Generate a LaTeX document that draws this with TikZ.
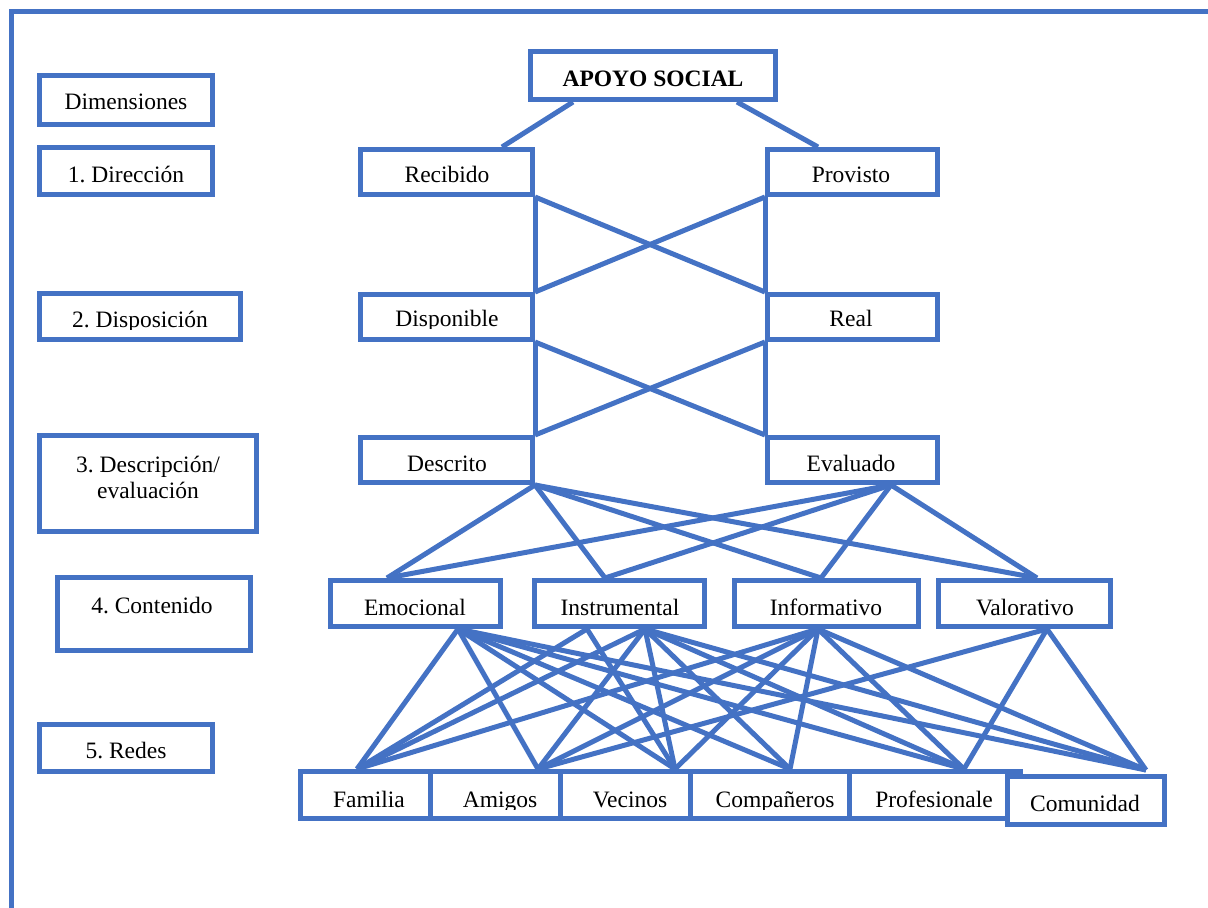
\documentclass[tikz,border=0pt]{standalone}
\usepackage{fontspec}
\setmainfont{Liberation Serif}
\usetikzlibrary{calc}
\definecolor{ofblue}{HTML}{4472C4}
\frenchspacing

% box given by its outer corners (x1,y1) (x2,y2), in pixel-like units
\newcommand\mkbox[5]{%
  \pgfmathsetmacro\mybw{(#4-#2-5)/2}%
  \pgfmathsetmacro\mybh{(#5-#3-5)/2}%
  \node[box, minimum width=\mybw pt, minimum height=\mybh pt] (#1) at ({(#2+#4)/2},{(#3+#5)/2}) {};}

\begin{document}
\begin{tikzpicture}[x=0.5pt,y=-0.5pt,
  box/.style={draw=ofblue, line width=2.5pt, fill=white, rectangle, inner sep=0pt},
  link/.style={draw=ofblue, line width=2.5pt},
  frame/.style={draw=ofblue, line width=2.5pt, line join=miter},
  txt/.style={anchor=base, inner sep=0pt, font=\fontsize{11.75}{13}\selectfont, align=center}]
\useasboundingbox (0,0) rectangle (1208,908);

% outer frame (top and left edges only)
\draw[frame] (11,908) -- (11,12) -- (1208,12);

% ---- dimension column ----
\mkbox{dim}{37}{73}{215}{127}
\mkbox{dA}{37}{145}{215}{197}
\mkbox{dB}{37}{291}{243}{342}
\mkbox{dC}{37}{433}{259}{534}
\mkbox{dD}{55}{575}{253}{653}
\mkbox{dE}{37}{722}{215}{774}
\node[txt] (dim-t) at (126,110) {Dimensiones};
\node[txt] (dA-t) at (126,183) {1. Dirección};
\begin{scope}
  \clip (40,294) rectangle (240,330);
  \node[txt] (dB-t) at (140,328) {2. Disposición};
\end{scope}
\node[txt] (dC-t) at (148,498) {3. Descripción/\\evaluación};
\node[txt] (dD-t) at (152,613) {4. Contenido};
\node[txt] (dE-t) at (126,758) {5. Redes};

% ---- hierarchy ----
\mkbox{apoyo}{528}{49}{778}{102}
\mkbox{rec}{358}{147}{535}{197}
\mkbox{prov}{765}{147}{940}{197}
\mkbox{disp}{358}{292}{535}{342}
\mkbox{real}{765}{292}{940}{342}
\mkbox{desc}{358}{435}{535}{485}
\mkbox{eval}{765}{435}{940}{485}

\mkbox{emo}{328}{578}{503}{629}
\mkbox{inst}{532}{578}{707}{629}
\mkbox{info}{732}{578}{921}{629}
\mkbox{valo}{936}{578}{1113}{629}

\mkbox{fam}{298}{769}{433}{821}
\mkbox{ami}{428}{769}{563}{821}
\mkbox{vec}{558}{769}{693}{821}
\mkbox{comp}{688}{769}{852}{821}
\mkbox{prof}{847}{769}{1023}{821}
\mkbox{comu}{1005}{774}{1167}{827}

\node[txt, font=\fontsize{11.75}{13}\selectfont\bfseries] (apoyo-t) at (653,87) {APOYO SOCIAL};
\node[txt] (rec-t) at (447,183) {Recibido};
\node[txt] (prov-t) at (851,183) {Provisto};
\begin{scope}
  \clip (361,295) rectangle (530,329);
  \node[txt] (disp-t) at (447,327) {Disponible};
\end{scope}
\node[txt] (real-t) at (851,327) {Real};
\node[txt] (desc-t) at (447,471) {Descrito};
\node[txt] (eval-t) at (851,471) {Evaluado};

\node[txt] (emo-t) at (415,615) {Emocional};
\node[txt] (inst-t) at (620,615) {Instrumental};
\node[txt] (info-t) at (826,615) {Informativo};
\node[txt] (valo-t) at (1025,615) {Valorativo};

\begin{scope}
  \clip (300,772) rectangle (1003,809);
  \node[txt] (fam-t) at (369,807) {Familia};
  \node[txt] (ami-t) at (500,807) {Amigos};
  \node[txt] (vec-t) at (630,807) {Vecinos};
  \node[txt] (comp-t) at (775,807) {Compañeros};
  \node[txt] (prof-t) at (934,807) {Profesionale};
\end{scope}
\node[txt] (comu-t) at (1085,811) {Comunidad};

% ---- connectors: levels 0 to 3 ----
\draw[link] ($(apoyo.south)+(-80,0)$) -- ($(rec.north)+(55.5,0)$);
\draw[link] ($(apoyo.south)+(84,0)$) -- ($(prov.north)+(-34.5,0)$);

\draw[link] (rec.south east) -- (disp.north east);
\draw[link] (rec.south east) -- (real.north west);
\draw[link] (prov.south west) -- (disp.north east);
\draw[link] (prov.south west) -- (real.north west);

\draw[link] (disp.south east) -- (desc.north east);
\draw[link] (disp.south east) -- (eval.north west);
\draw[link] (real.south west) -- (desc.north east);
\draw[link] (real.south west) -- (eval.north west);

% attachment points on the content boxes
\coordinate (emo-n) at ($(emo.north)+(-28.5,0)$);
\coordinate (inst-n) at ($(inst.north)+(-14.5,0)$);
\coordinate (info-n) at ($(info.north)+(-5.5,0)$);
\coordinate (valo-n) at ($(valo.north)+(12.5,0)$);
\coordinate (eval-s) at ($(eval.south)+(38.5,0)$);

\foreach \t in {emo-n,inst-n,info-n,valo-n}{
  \draw[link] (desc.south east) -- (\t);
  \draw[link] (eval-s) -- (\t);
}

% attachment points for the network level
\coordinate (emo-s) at ($(emo.south)+(42.5,0)$);
\coordinate (inst-s1) at ($(inst.south)+(-32.5,0)$);
\coordinate (inst-s2) at ($(inst.south)+(25.5,0)$);
\coordinate (info-s) at ($(info.south)+(-8.5,0)$);
\coordinate (valo-s) at ($(valo.south)+(22.5,0)$);

\coordinate (fam-n) at ($(fam.north)+(-8.5,0)$);
\coordinate (ami-n) at ($(ami.north)+(42.5,0)$);
\coordinate (vec-n) at ($(vec.north)+(49.5,0)$);
\coordinate (comp-n) at ($(comp.north)+(20,0)$);
\coordinate (prof-n) at ($(prof.north)+(29,0)$);
\coordinate (comu-n) at ($(comu.north)+(60,-4)$);

\foreach \a/\b in {
  emo-s/fam-n, emo-s/ami-n, emo-s/vec-n, emo-s/comp-n, emo-s/prof-n, emo-s/comu-n,
  inst-s1/fam-n, inst-s1/vec-n,
  inst-s2/fam-n, inst-s2/ami-n, inst-s2/vec-n, inst-s2/comp-n, inst-s2/prof-n, inst-s2/comu-n,
  info-s/fam-n, info-s/ami-n, info-s/vec-n, info-s/comp-n, info-s/prof-n, info-s/comu-n,
  valo-s/ami-n, valo-s/prof-n, valo-s/comu-n}{
  \draw[link] (\a) -- (\b);
}
\end{tikzpicture}
\end{document}
